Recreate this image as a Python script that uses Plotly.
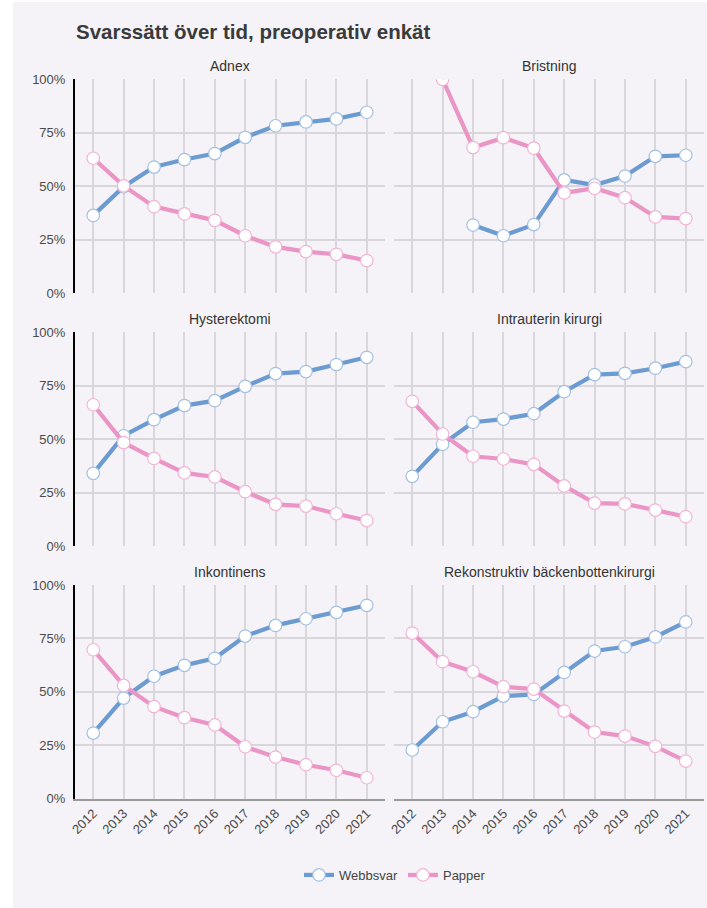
import plotly.graph_objects as go

years = [2012, 2013, 2014, 2015, 2016, 2017, 2018, 2019, 2020, 2021]
panels = ["Adnex", "Bristning", "Hysterektomi", "Intrauterin kirurgi",
          "Inkontinens", "Rekonstruktiv bäckenbottenkirurgi"]

webb_adnex = [0.364, 0.498, 0.590, 0.625, 0.653, 0.729, 0.783, 0.801, 0.815, 0.846]
papp_adnex = [0.631, 0.502, 0.405, 0.371, 0.341, 0.269, 0.217, 0.195, 0.182, 0.153]
webb_brist = [None, None, 0.319, 0.269, 0.321, 0.530, 0.506, 0.548, 0.640, 0.645]
papp_brist = [None, 1.0, 0.681, 0.727, 0.678, 0.469, 0.491, 0.447, 0.357, 0.349]
webb_hyst = [0.340, 0.516, 0.591, 0.657, 0.680, 0.747, 0.807, 0.816, 0.849, 0.883]
papp_hyst = [0.661, 0.484, 0.410, 0.342, 0.323, 0.254, 0.195, 0.187, 0.151, 0.119]
webb_intra = [0.326, 0.476, 0.579, 0.594, 0.619, 0.722, 0.802, 0.808, 0.832, 0.863]
papp_intra = [0.677, 0.524, 0.420, 0.407, 0.382, 0.281, 0.201, 0.197, 0.168, 0.137]
webb_inkont = [0.307, 0.471, 0.573, 0.624, 0.657, 0.761, 0.811, 0.842, 0.872, 0.905]
papp_inkont = [0.697, 0.530, 0.431, 0.379, 0.345, 0.243, 0.195, 0.159, 0.133, 0.098]
webb_rekon = [0.228, 0.360, 0.407, 0.480, 0.488, 0.591, 0.691, 0.711, 0.757, 0.827]
papp_rekon = [0.775, 0.641, 0.594, 0.524, 0.513, 0.410, 0.312, 0.293, 0.245, 0.176]

webb = [webb_adnex, webb_brist, webb_hyst, webb_intra, webb_inkont, webb_rekon]
papp = [papp_adnex, papp_brist, papp_hyst, papp_intra, papp_inkont, papp_rekon]

y_ticks = [0, 0.25, 0.5, 0.75, 1.0]
y_labels = ["0%", "25%", "50%", "75%", "100%"]

W, H = 707, 908
BG = "#f5f3f7"
BLUE = "#6b9bd1"
PINK = "#ea95c5"
BLUE_EDGE = "#a3c1e4"
PINK_EDGE = "#f2b5d6"
GRID = "#d9d7db"
FONT = "Liberation Sans, Arial, sans-serif"

xdoms = [(75 / W, 385 / W), (394 / W, 704 / W)]
ydoms = [(1 - 293.3 / H, 1 - 79.3 / H), (1 - 546 / H, 1 - 332.3 / H), (1 - 798.7 / H, 1 - 585 / H)]

fig = go.Figure()
layout = {}
annotations = []
for i, name in enumerate(panels):
    r, c = divmod(i, 2)
    n = i + 1
    xa = "x" if n == 1 else f"x{n}"
    ya = "y" if n == 1 else f"y{n}"
    fig.add_trace(go.Scatter(
        x=years, y=webb[i], mode="lines+markers", name="Webbsvar",
        xaxis=xa, yaxis=ya, showlegend=(i == 0), legendgroup="w",
        line=dict(color=BLUE, width=4.2),
        marker=dict(size=12.5, color="white", line=dict(color=BLUE_EDGE, width=1.2)),
    ))
    fig.add_trace(go.Scatter(
        x=years, y=papp[i], mode="lines+markers", name="Papper",
        xaxis=xa, yaxis=ya, showlegend=(i == 0), legendgroup="p",
        line=dict(color=PINK, width=4.2),
        marker=dict(size=12.5, color="white", line=dict(color=PINK_EDGE, width=1.2)),
    ))
    bottom = (r == 2)
    left = (c == 0)
    layout["xaxis" if n == 1 else f"xaxis{n}"] = dict(
        domain=list(xdoms[c]), anchor=ya, range=[2011.4, 2021.6],
        tickvals=years, ticktext=[str(y) for y in years] if bottom else None,
        showticklabels=bottom, tickangle=-45,
        tickfont=dict(size=13, color="#4a4a4a", family=FONT),
        showgrid=True, gridcolor=GRID, gridwidth=1.5, zeroline=False,
        showline=bottom, linecolor="#9a9a9a", linewidth=2,
        ticks="", fixedrange=True, automargin=False,
    )
    layout["yaxis" if n == 1 else f"yaxis{n}"] = dict(
        domain=list(ydoms[r]), anchor=xa, range=[0, 1],
        tickvals=y_ticks, ticktext=y_labels, showticklabels=left,
        tickfont=dict(size=13, color="#4a4a4a", family=FONT),
        showgrid=True, gridcolor=GRID, gridwidth=1.5, zeroline=False,
        showline=left, linecolor="black", linewidth=2,
        ticks="", ticklabelstandoff=5, fixedrange=True, automargin=False,
    )
    annotations.append(dict(
        text=name, xref="paper", yref="paper",
        x=(xdoms[c][0] + xdoms[c][1]) / 2, y=ydoms[r][1] + 13 / H,
        xanchor="center", yanchor="middle", showarrow=False,
        font=dict(size=14, color="#333333", family=FONT),
    ))

fig.update_layout(
    **layout,
    annotations=annotations,
    width=W, height=H, autosize=False,
    margin=dict(l=0, r=0, t=0, b=0, pad=0, autoexpand=False),
    paper_bgcolor="white", plot_bgcolor=BG,
    title=dict(text="<b>Svarssätt över tid, preoperativ enkät</b>",
               x=76 / W, xanchor="left", y=1 - 32 / H, yanchor="middle",
               font=dict(size=20.5, color="#3a3a3a", family=FONT)),
    legend=dict(orientation="h", x=395 / W, xanchor="center", y=1 - 875 / H, yanchor="middle",
                font=dict(size=13, color="#444444", family=FONT), itemwidth=30,
                bgcolor="rgba(0,0,0,0)"),
    shapes=[dict(type="rect", xref="paper", yref="paper", layer="below",
                 x0=13 / W, x1=1.01, y0=-0.01, y1=1 - 2 / H,
                 fillcolor=BG, line=dict(width=0))],
    font=dict(family=FONT),
)

fig.write_html(
    "out.html",
    config={"responsive": False, "displayModeBar": False},
    post_script="document.body.style.margin='0';document.body.style.overflow='hidden';",
)
